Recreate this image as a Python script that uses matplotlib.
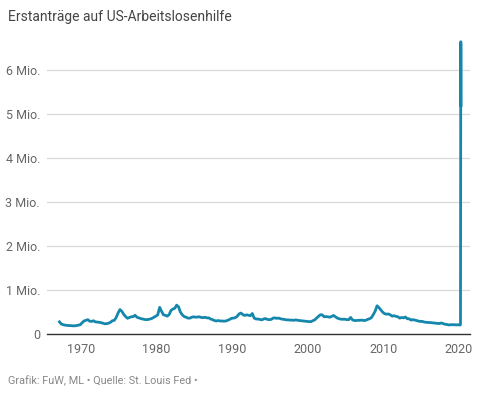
import matplotlib
matplotlib.use("Agg")
import matplotlib.pyplot as plt
import pandas as pd
import numpy as np

plt.rcParams['font.family'] = ['Roboto', 'DejaVu Sans']

title = "Erstanträge auf US-Arbeitslosenhilfe"
footer = "Grafik: FuW, ML • Quelle: St. Louis Fed •"

# Quarterly average weekly initial claims (thousands), 1967Q1 .. 2019Q4
quarterly_claims = [
    280, 230, 215, 205,   # 1967
    200, 195, 195, 190,   # 1968
    190, 195, 205, 215,   # 1969
    260, 300, 315, 330,   # 1970
    295, 290, 305, 280,   # 1971
    275, 270, 260, 250,   # 1972
    235, 240, 250, 270,   # 1973
    305, 315, 380, 480,   # 1974
    560, 520, 450, 400,   # 1975
    360, 380, 395, 400,   # 1976
    430, 385, 370, 355,   # 1977
    345, 335, 330, 335,   # 1978
    345, 360, 385, 410,   # 1979
    440, 610, 520, 440,   # 1980
    430, 410, 445, 540,   # 1981
    570, 590, 660, 620,   # 1982
    500, 440, 400, 385,   # 1983
    365, 365, 385, 395,   # 1984
    385, 390, 395, 380,   # 1985
    375, 385, 370, 370,   # 1986
    345, 330, 310, 300,   # 1987
    310, 300, 300, 295,   # 1988
    300, 315, 335, 360,   # 1989
    365, 375, 405, 460,   # 1990
    480, 445, 425, 440,   # 1991
    430, 420, 470, 365,   # 1992
    345, 345, 335, 325,   # 1993
    345, 355, 335, 330,   # 1994
    335, 365, 370, 360,   # 1995
    365, 350, 340, 335,   # 1996
    325, 325, 320, 320,   # 1997
    315, 325, 315, 310,   # 1998
    305, 300, 295, 290,   # 1999
    285, 285, 305, 325,   # 2000
    365, 405, 440, 440,   # 2001
    395, 400, 395, 385,   # 2002
    405, 425, 395, 365,   # 2003
    350, 340, 340, 340,   # 2004
    330, 330, 380, 325,   # 2005
    310, 310, 315, 315,   # 2006
    320, 310, 315, 335,   # 2007
    350, 375, 445, 525,   # 2008
    645, 605, 550, 500,   # 2009
    465, 455, 460, 440,   # 2010
    410, 420, 405, 395,   # 2011
    365, 380, 370, 390,   # 2012
    350, 350, 320, 330,   # 2013
    320, 310, 295, 290,   # 2014
    290, 275, 270, 265,   # 2015
    265, 260, 255, 250,   # 2016
    245, 240, 255, 240,   # 2017
    225, 220, 210, 215,   # 2018
    215, 215, 210, 215,   # 2019
]
quarter_dates = pd.date_range("1967-02-15", periods=len(quarterly_claims), freq="3MS")

# Weekly initial claims 2020 (thousands)
weekly_2020_dates = ["2020-01-15", "2020-02-15", "2020-03-07", "2020-03-14",
                     "2020-03-21", "2020-03-28", "2020-04-04", "2020-04-11"]
weekly_2020_claims = [210, 215, 210, 250, 3300, 6650, 6600, 5200]

dates = list(quarter_dates) + list(pd.to_datetime(weekly_2020_dates))
values = np.array(quarterly_claims + weekly_2020_claims) / 1000.0

yticks = [0, 1, 2, 3, 4, 5, 6]
ytick_labels = ["0", "1 Mio.", "2 Mio.", "3 Mio.", "4 Mio.", "5 Mio.", "6 Mio."]
xtick_years = [1970, 1980, 1990, 2000, 2010, 2020]

fig = plt.figure(figsize=(4.78, 3.95), dpi=100)
ax = fig.add_axes([0.098, 0.154, 0.885, 0.757])

ax.plot(dates, values, color="#1587ad", linewidth=2.0, solid_joinstyle="round")

ax.set_ylim(0, 6.8)
ax.set_xlim(pd.Timestamp("1965-07-01"), pd.Timestamp("2021-06-10"))
ax.set_yticks(yticks)
ax.set_yticklabels(ytick_labels)
ax.set_xticks([pd.Timestamp(f"{y}-01-01") for y in xtick_years])
ax.set_xticklabels([str(y) for y in xtick_years])

ax.grid(axis="y", color="#d9d9d9", linewidth=0.9)
ax.set_axisbelow(True)
for s in ["top", "right", "left"]:
    ax.spines[s].set_visible(False)
ax.spines["bottom"].set_color("#333333")
ax.spines["bottom"].set_linewidth(1.0)
ax.tick_params(axis="both", length=0, labelsize=9, labelcolor="#666666")
ax.tick_params(axis="y", pad=5)
ax.tick_params(axis="x", pad=6)

fig.text(0.017, 0.958, title, fontsize=10, color="#444444", va="center", ha="left")
fig.text(0.017, 0.035, footer, fontsize=7.8, color="#888888", va="center", ha="left")

fig.savefig("out.png", dpi=100)
